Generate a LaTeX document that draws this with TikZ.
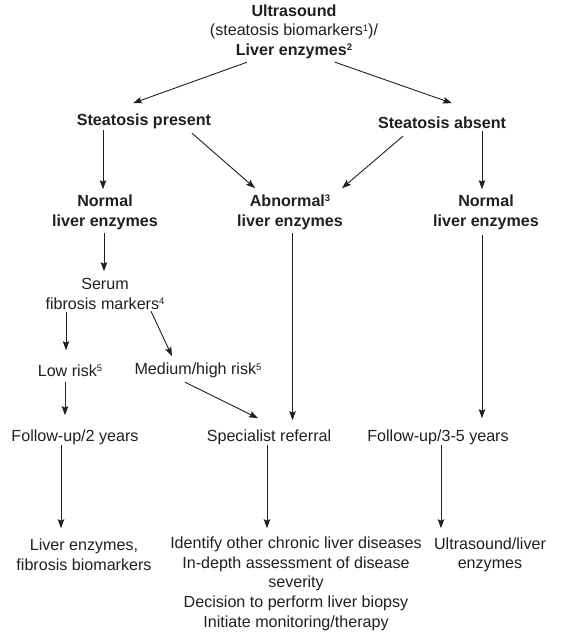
\documentclass[tikz,border=0pt]{standalone}
\usepackage{fontspec}
\setmainfont{Liberation Sans}
\usetikzlibrary{arrows.meta,calc}
\definecolor{ink}{HTML}{231F20}
\newcommand\supnum[1]{\raisebox{4.6pt}{\fontsize{9.5}{9.5}\selectfont #1}}
\begin{document}
\begin{tikzpicture}[x=1pt,y=-1pt,
  txt/.style={inner sep=0pt,align=center,text=ink,yshift=-1.7pt,font=\fontsize{16.1}{19.6}\selectfont},
  bold/.style={txt,font=\fontsize{16.1}{19.6}\selectfont\bfseries},
  arr/.style={draw=ink,line width=0.9pt,-{Stealth[length=9pt,width=6.5pt,inset=1.5pt]}}]
\useasboundingbox (0,0) rectangle (571,640);
\fill[white] (0,0) rectangle (571,640);
% nodes
\node[txt] (top) at (294,30) {\textbf{Ultrasound}\\(steatosis biomarkers\supnum{1})/\\\textbf{Liver enzymes\supnum{2}}};
\node[bold] (sp) at (144,120) {Steatosis present};
\node[bold] (sa) at (442,121) {Steatosis absent};
\node[bold] (nl) at (105,210.5) {Normal\\liver enzymes};
\node[bold] (ab) at (290,210.5) {Abnormal\supnum{3}\\liver enzymes};
\node[bold] (nr) at (486,210.5) {Normal\\liver enzymes};
\node[txt] (serum) at (105,292) {Serum\\fibrosis markers\supnum{4}};
\node[txt] (low) at (70,369) {Low risk\supnum{5}};
\node[txt] (med) at (198,369) {Medium/high risk\supnum{5}};
\node[txt] (fu2) at (75,436) {Follow-up/2 years};
\node[txt] (spec) at (269,436) {Specialist referral};
\node[txt] (fu35) at (438,436) {Follow-up/3-5 years};
\node[txt] (le) at (84,553) {Liver enzymes,\\fibrosis biomarkers};
\node[txt] (bm) at (296,582) {Identify other chronic liver diseases\\In-depth assessment of disease\\severity\\Decision to perform liver biopsy\\Initiate monitoring/therapy};
\node[txt] (ul) at (490,553) {Ultrasound/liver\\enzymes};
% connectors (offsets compensate the text shift)
\draw[arr] ($(top)+(-47,30.5)$) -- ($(sp)+(-11,-18.5)$);
\draw[arr] ($(top)+(41,30.5)$) -- ($(sa)+(10,-19.5)$);
\draw[arr] ($(sp)+(-41,8.5)$) -- ($(nl)+(-2,-23)$);
\draw[arr] ($(sp)+(48,11.5)$) -- ($(ab)+(-35,-24)$);
\draw[arr] ($(sa)+(-39,13.5)$) -- ($(ab)+(52,-24)$);
\draw[arr] ($(sa)+(40,8.5)$) -- ($(nr)+(-4,-23)$);
\draw[arr] ($(nl)+(-1,21)$) -- ($(serum)+(-1,-22.5)$);
\draw[arr] ($(serum)+(-39,18.5)$) -- ($(low)+(-4,-20.5)$);
\draw[arr] ($(serum)+(46,17.5)$) -- ($(med)+(-26,-14.5)$);
\draw[arr] ($(low)+(-5,11.5)$) -- ($(fu2)+(-10,-22.5)$);
\draw[arr] ($(med)+(-13,11.5)$) -- ($(spec)+(-11,-19.5)$);
\draw[arr] ($(ab)+(2.5,21)$) -- ($(spec)+(23.5,-17.5)$);
\draw[arr] ($(nr)+(-4,23)$) -- ($(fu35)+(44,-19.5)$);
\draw[arr] ($(fu2)+(-14,7.5)$) -- ($(le)+(-23,-26.5)$);
\draw[arr] ($(spec)+(-2,7.5)$) -- ($(bm)+(-29,-55.5)$);
\draw[arr] ($(fu35)+(3,7.5)$) -- ($(ul)+(-49,-26.5)$);
\end{tikzpicture}
\end{document}
